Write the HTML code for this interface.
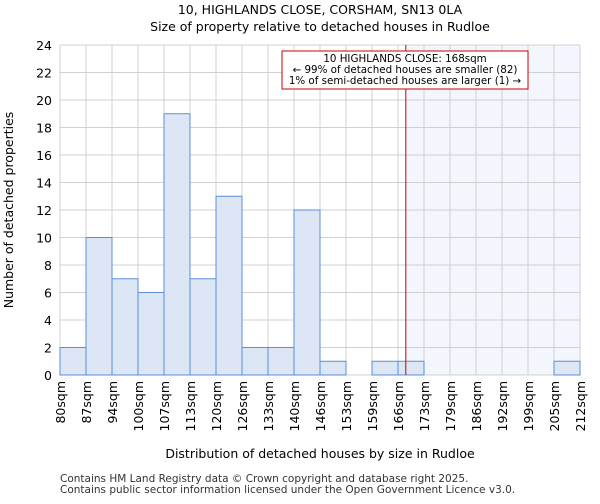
<!DOCTYPE html>
<html><head><meta charset="utf-8"><style>
body{margin:0;background:#fff;font-family:"DejaVu Sans","Liberation Sans",sans-serif;}
</style></head><body>
<svg id="c" width="600" height="500" xmlns="http://www.w3.org/2000/svg" font-family="DejaVu Sans, Liberation Sans, sans-serif">
<text x="320" y="14" text-anchor="middle" font-size="12.5">10, HIGHLANDS CLOSE, CORSHAM, SN13 0LA</text>
<text x="320" y="31" text-anchor="middle" font-size="12.5">Size of property relative to detached houses in Rudloe</text>
<g id="plot"></g>
<text x="320" y="458" text-anchor="middle" font-size="12.5">Distribution of detached houses by size in Rudloe</text>
<text transform="translate(13,210) rotate(-90)" text-anchor="middle" font-size="12.5">Number of detached properties</text>
<text x="60" y="482" font-size="10.5" fill="#333">Contains HM Land Registry data © Crown copyright and database right 2025.</text>
<text x="60" y="493" font-size="10.5" fill="#333">Contains public sector information licensed under the Open Government Licence v3.0.</text>
</svg>
<script>
const binLabels=["80sqm","87sqm","94sqm","100sqm","107sqm","113sqm","120sqm","126sqm","133sqm","140sqm","146sqm","153sqm","159sqm","166sqm","173sqm","179sqm","186sqm","192sqm","199sqm","205sqm","212sqm"];
const counts=[2,10,7,6,19,7,13,2,2,12,1,0,1,1,0,0,0,0,0,1];
const yTicks=[0,2,4,6,8,10,12,14,16,18,20,22,24];
const markerBin=[13.3];
const NS="http://www.w3.org/2000/svg";
const L=60,R=580,T=45,B=375,YMAX=24;
const nb=counts.length;
const x=i=>L+(R-L)*i/nb;
const y=v=>B-(B-T)*v/YMAX;
const g=document.getElementById('plot');
function mk(t,a){const e=document.createElementNS(NS,t);for(const k in a)e.setAttribute(k,a[k]);g.appendChild(e);return e;}
const mx=x(markerBin[0]);
let e=mk('rect',{x:mx,y:T,width:R-mx,height:B-T,fill:'#f3f6fd'});


for(let i=0;i<=nb;i++){e=mk('line',{x1:x(i),x2:x(i),y1:T,y2:B,stroke:'#d0d0d0','stroke-width':1});

}
yTicks.forEach(v=>{e=mk('line',{x1:L,x2:R,y1:y(v),y2:y(v),stroke:'#d0d0d0','stroke-width':1});


e=mk('text',{x:L-8,y:y(v)+5,'text-anchor':'end','font-size':12.5});e.textContent=v;

});
counts.forEach((c,i)=>{if(c<=0)return;e=mk('rect',{x:x(i),y:y(c),width:x(i+1)-x(i),height:B-y(c),fill:'#dce6f4',stroke:'#5a8fd8','stroke-width':1});

});
binLabels.forEach((s,i)=>{e=mk('text',{transform:`translate(${x(i)+5},381) rotate(-90)`,'text-anchor':'end','font-size':12.5});e.textContent=s;

});
e=mk('line',{x1:mx,x2:mx,y1:T,y2:B,stroke:'#cc0000','stroke-width':1});


e=mk('rect',{x:282,y:51,width:246,height:38,fill:'#fff',stroke:'#cc0000','stroke-width':1});


["10 HIGHLANDS CLOSE: 168sqm","← 99% of detached houses are smaller (82)","1% of semi-detached houses are larger (1) →"].forEach((t,i)=>{e=mk('text',{x:405,y:62+i*11,'text-anchor':'middle','font-size':10.3});e.textContent=t;

});
</script>
</body></html>
